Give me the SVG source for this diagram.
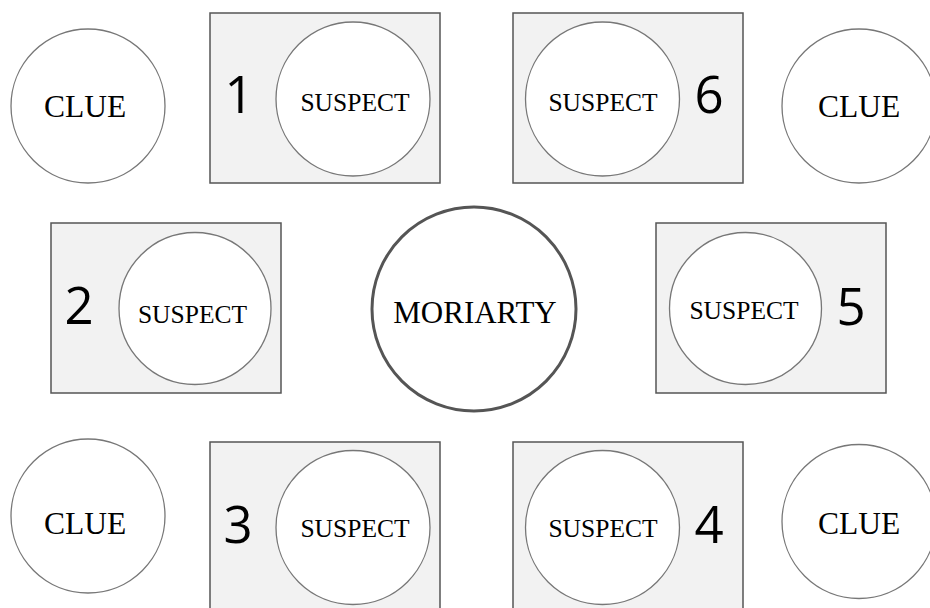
<svg xmlns="http://www.w3.org/2000/svg" width="930" height="608" viewBox="0 0 930 608">
<style>
.box{fill:#f2f2f2;stroke:#555;stroke-width:1.5}
.c{fill:#fff;stroke:#777;stroke-width:1.3}
.m{fill:#fff;stroke:#555;stroke-width:3}
.s{font-family:"Liberation Serif","Times New Roman",serif;font-size:25.5px;text-anchor:middle;fill:#000}
.cl{font-family:"Liberation Serif","Times New Roman",serif;font-size:31.5px;text-anchor:middle;fill:#000}
.n{font-family:"Open Sans","DejaVu Sans",sans-serif;font-size:51px;text-anchor:middle;fill:#000}
</style>
<rect width="930" height="608" fill="#fff"/>
<g id="clue-tl"><circle class="c" cx="88" cy="106" r="77"/><text class="cl" x="85" y="117">CLUE</text></g>
<g id="suspect-1"><rect class="box" x="210" y="13" width="230" height="170"/><circle class="c" cx="353" cy="99" r="77"/><text class="n" x="239" y="113">1</text><text class="s" x="355" y="111">SUSPECT</text></g>
<g id="suspect-6"><rect class="box" x="513" y="13" width="230" height="170"/><circle class="c" cx="602.5" cy="99" r="77"/><text class="n" x="709" y="113">6</text><text class="s" x="603" y="111">SUSPECT</text></g>
<g id="clue-tr"><circle class="c" cx="859" cy="106" r="77"/><text class="cl" x="859" y="117">CLUE</text></g>
<g id="suspect-2"><rect class="box" x="51" y="223" width="230" height="170"/><circle class="c" cx="195" cy="308.5" r="76"/><text class="n" x="79" y="324">2</text><text class="s" x="192.5" y="323">SUSPECT</text></g>
<g id="moriarty"><circle class="m" cx="474" cy="309" r="102"/><text class="cl" x="475" y="323" style="font-size:31px">MORIARTY</text></g>
<g id="suspect-5"><rect class="box" x="656" y="223" width="230" height="170"/><circle class="c" cx="745.5" cy="308.5" r="76"/><text class="n" x="851" y="325">5</text><text class="s" x="744" y="319">SUSPECT</text></g>
<g id="clue-bl"><circle class="c" cx="88" cy="516" r="77"/><text class="cl" x="85" y="534">CLUE</text></g>
<g id="suspect-3"><rect class="box" x="210" y="442" width="230" height="180"/><circle class="c" cx="353" cy="527.5" r="77"/><text class="n" x="238" y="543">3</text><text class="s" x="355" y="537">SUSPECT</text></g>
<g id="suspect-4"><rect class="box" x="513" y="442" width="230" height="180"/><circle class="c" cx="602.5" cy="527.5" r="77"/><text class="n" x="709" y="543">4</text><text class="s" x="603" y="537">SUSPECT</text></g>
<g id="clue-br"><circle class="c" cx="859" cy="521.5" r="77"/><text class="cl" x="859" y="534">CLUE</text></g>
<g id="connectors"></g>
</svg>
